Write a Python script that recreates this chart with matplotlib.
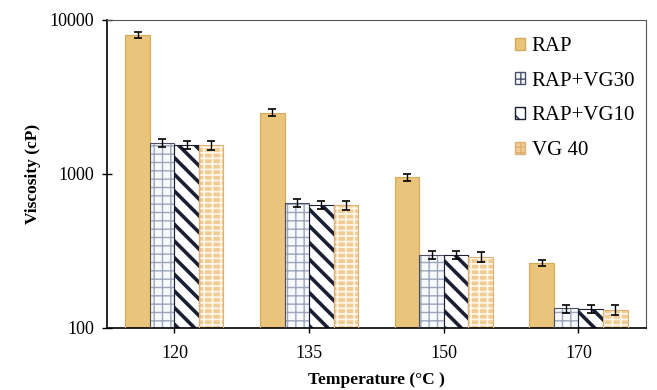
import matplotlib
matplotlib.use("Agg")
import matplotlib.pyplot as plt
import numpy as np

plt.rcParams['font.family'] = ['Liberation Serif', 'DejaVu Serif']
plt.rcParams['hatch.linewidth'] = 1.0

temps = ['120', '135', '150', '170']
series = ['RAP', 'RAP+VG30', 'RAP+VG10', 'VG 40']
rap = [8000, 2500, 950, 265]
rap_vg30 = [1580, 650, 298, 134]
rap_vg10 = [1540, 630, 298, 133]
vg40 = [1540, 625, 290, 131]
# error bars are a few percent of each value
err_frac = [0.05, 0.06, 0.06, 0.07]

values = [rap, rap_vg30, rap_vg10, vg40]
faces = ['#EBC47C', '#F7F9FC', 'white', '#F2CB92']
hatch_cols = ['#E3BA6E', '#9CA5BA', '#1A1F33', '#FFF6EA']
hatches = [None, '++', '\\\\', '---||']
hatch_lw = [1.0, 1.0, 2.6, 1.3]
outline = ['#D4A957', '#4A5066', '#1A1F33', '#DDB074']

fig = plt.figure(figsize=(6.57, 3.9), dpi=100)
ax = fig.add_axes([0.163, 0.159, 0.820, 0.790])

x = np.arange(len(temps))
w = 0.182
offsets = (np.arange(4) - 1.5) * w

handles = []
for i in range(4):
    pos = x + offsets[i]
    vals = np.array(values[i], dtype=float)
    bars = ax.bar(pos, vals, w, bottom=0, color=faces[i], edgecolor=hatch_cols[i],
                  hatch=hatches[i], linewidth=0, zorder=2)
    for b in bars:
        if hasattr(b, 'set_hatch_linewidth'):
            b.set_hatch_linewidth(hatch_lw[i])
    ax.bar(pos, vals, w, facecolor='none', edgecolor=outline[i],
           linewidth=0.8, zorder=3)
    ax.errorbar(pos, vals, yerr=vals * err_frac[i], fmt='none', ecolor='black',
                elinewidth=1.0, capsize=3, capthick=1.2, zorder=4)
    handles.append(plt.Rectangle((0, 0), 1, 1, facecolor=faces[i],
                                 edgecolor=outline[i], hatch=hatches[i], lw=1))

ax.set_yscale('log')
ax.set_ylim(100, 10000)
ax.set_xlim(-0.5, 3.5)
ax.set_xticks(x)
ax.set_xticklabels(temps)
ax.set_yticks([100, 1000, 10000])
ax.set_yticklabels(['100', '1000', '10000'])
ax.yaxis.set_minor_locator(matplotlib.ticker.NullLocator())
ax.tick_params(axis='both', labelsize=13, direction='inout', length=7, width=1)
ax.tick_params(axis='x', pad=9)
ax.tick_params(axis='y', pad=6)

for s in ['left', 'bottom']:
    ax.spines[s].set_linewidth(1.2)
for s in ['top', 'right']:
    ax.spines[s].set_linewidth(0.8)
    ax.spines[s].set_color('#555555')

ax.set_ylabel('Viscosity (cP)', fontsize=12.5, fontweight='bold', labelpad=6)
ax.set_xlabel('Temperature (°C )', fontsize=12.5, fontweight='bold', labelpad=7)

ax.legend(handles, series, loc='upper right', bbox_to_anchor=(1.015, 1.005),
          frameon=False, fontsize=15, handlelength=0.5, handleheight=0.5,
          handletextpad=0.3, labelspacing=0.75)

fig.savefig('out.png', dpi=100)
